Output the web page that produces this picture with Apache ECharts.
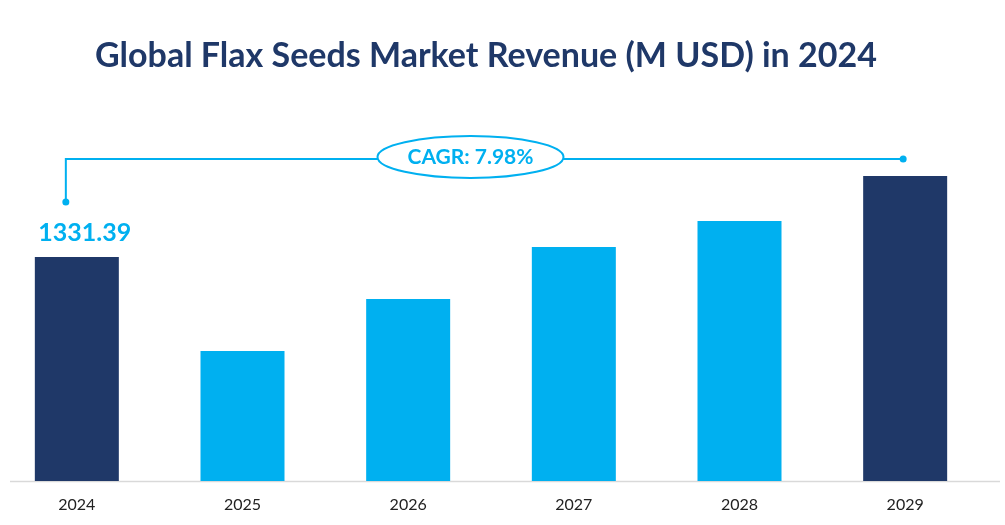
<!DOCTYPE html>
<html><head><meta charset="utf-8">
<script src="https://cdn.jsdelivr.net/npm/echarts@6/dist/echarts.min.js"></script>
<style>html,body{margin:0;padding:0;background:#fff}#c{width:1005px;height:525px}</style>
</head><body><div id="c"></div>
<script>
const categories = ['2024','2025','2026','2027','2028','2029'];
const revenue = [1331.39, 772.7, 1081.8, 1390.8, 1545.4, 1812.8];
const highlighted = ['2024','2029'];
const titleText = 'Global Flax Seeds Market Revenue (M USD) in 2024';
const cagrText = 'CAGR: 7.98%';

const NAVY = '#1F3868', BLUE = '#00B0F0';
const chart = echarts.init(document.getElementById('c'));
chart.setOption({
  animation: false,
  title: { text: titleText, left: 90, top: 34,
    textStyle: { color: NAVY, fontFamily: 'Lato', fontWeight: 'bold', fontSize: 34 } },
  grid: { left: -6, width: 994, top: 144.5, bottom: 44, outerBoundsMode: 'none', containLabel: false },
  xAxis: { type: 'category', data: categories,
    axisLine: { show: false }, axisTick: { show: false },
    axisLabel: { color: '#222', fontFamily: 'Lato', fontSize: 16, margin: 16 } },
  yAxis: { type: 'value', min: 0, max: 2000, show: false, splitLine: { show: false } },
  series: [{
    type: 'bar', barWidth: 84,
    data: revenue.map((v, i) => ({
      value: v,
      itemStyle: { color: highlighted.includes(categories[i]) ? NAVY : BLUE },
      label: i === 0 ? { show: true, position: 'top', distance: 12, offset: [8, 0],
        formatter: p => p.value.toFixed(2), color: BLUE, fontFamily: 'Lato',
        fontWeight: 'bold', fontSize: 25 } : { show: false }
    }))
  }]
});
const x0 = chart.convertToPixel({ xAxisIndex: 0 }, categories[0]) - 11;
const x1 = chart.convertToPixel({ xAxisIndex: 0 }, categories[5]) - 2;
const yL = 159, base = chart.convertToPixel({ yAxisIndex: 0 }, 0);
const cx = (x0 + x1) / 2 - 14;
chart.setOption({ graphic: [
  { type: 'line', shape: { x1: 10, y1: base + 0.5, x2: 1000, y2: base + 0.5 }, style: { stroke: '#d9d9d9', lineWidth: 1.5 } },
  { type: 'polyline', shape: { points: [[x0, 202], [x0, yL], [x1, yL]] }, style: { stroke: BLUE, lineWidth: 2, fill: null } },
  { type: 'circle', shape: { cx: x0, cy: 202, r: 3.5 }, style: { fill: BLUE } },
  { type: 'circle', shape: { cx: x1, cy: yL, r: 3.5 }, style: { fill: BLUE } },
  { type: 'ellipse', shape: { cx: cx, cy: 157, rx: 93, ry: 21 }, style: { fill: '#fff', stroke: BLUE, lineWidth: 2 }, z: 10 },
  { type: 'text', x: cx, y: 157, z: 11, style: { text: cagrText, align: 'center', verticalAlign: 'middle',
      fill: BLUE, font: 'bold 21px Lato' } }
]});
</script></body></html>
